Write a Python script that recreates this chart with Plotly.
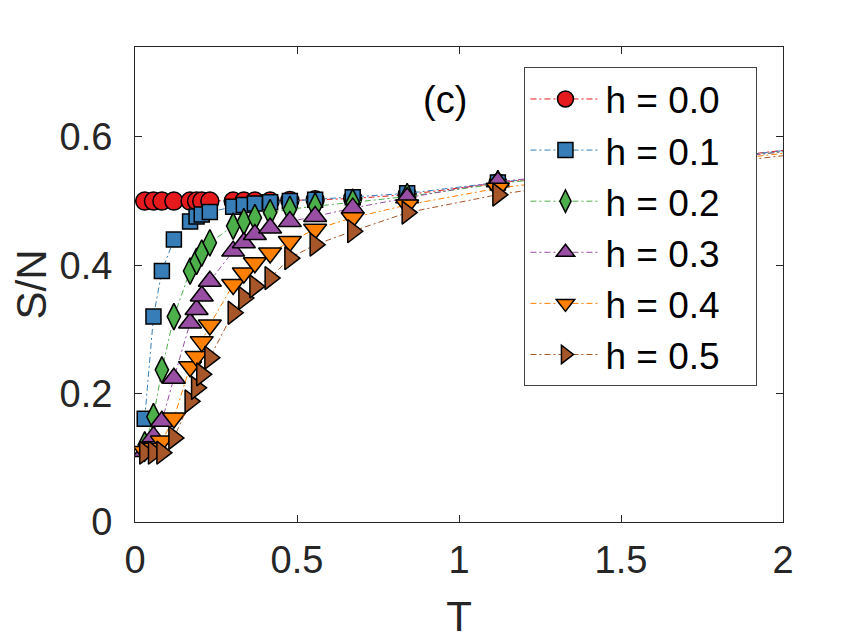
import plotly.graph_objects as go

# temperature grid (last two points sit behind the legend / beyond the axis)
T = [0.03, 0.057, 0.083, 0.12, 0.17, 0.19, 0.206, 0.231, 0.303, 0.336,
     0.37, 0.417, 0.478, 0.556, 0.672, 0.84, 1.12, 1.68, 3.36]

S_h00 = [0.5, 0.5, 0.5, 0.5, 0.5, 0.5, 0.5, 0.5, 0.5, 0.5,
         0.5, 0.5, 0.501, 0.502, 0.504, 0.51, 0.528, 0.561, 0.655]
S_h01 = [0.161, 0.320, 0.391, 0.440, 0.468, 0.476, 0.479, 0.483, 0.491, 0.494,
         0.496, 0.498, 0.500, 0.502, 0.506, 0.512, 0.529, 0.561, 0.655]
S_h02 = [0.12, 0.164, 0.237, 0.320, 0.391, 0.406, 0.419, 0.435, 0.461, 0.468,
         0.474, 0.482, 0.487, 0.492, 0.498, 0.507, 0.527, 0.560, 0.654]
S_h03 = [0.11, 0.133, 0.157, 0.224, 0.310, 0.331, 0.352, 0.375, 0.422, 0.435,
         0.448, 0.458, 0.468, 0.476, 0.489, 0.505, 0.530, 0.559, 0.653]
S_h04 = [0.11, 0.115, 0.126, 0.162, 0.242, 0.258, 0.281, 0.307, 0.370, 0.388,
         0.404, 0.419, 0.437, 0.456, 0.474, 0.494, 0.520, 0.556, 0.652]
S_h05 = [0.108, 0.108, 0.108, 0.131, 0.188, 0.209, 0.230, 0.256, 0.326, 0.349,
         0.367, 0.380, 0.411, 0.432, 0.453, 0.482, 0.510, 0.552, 0.650]

labels = ["h = 0.0", "h = 0.1", "h = 0.2", "h = 0.3", "h = 0.4", "h = 0.5"]
series = [S_h00, S_h01, S_h02, S_h03, S_h04, S_h05]

colors = ["#e41a1c", "#377eb8", "#4daf4a", "#984ea3", "#ff7f00", "#a65628"]
symbols = ["circle", "square", "diamond-tall", "triangle-up", "triangle-down", "triangle-right"]
sizes = [18, 15, 19, 20, 20, 20]

FONT = "Liberation Sans, Arial, sans-serif"
PAD = "\u00a0" * 3  # widens the legend box on the right

fig = go.Figure()
for i, (lab, s) in enumerate(zip(labels, series)):
    fig.add_trace(go.Scatter(
        x=T, y=s, name=lab + PAD, mode="lines+markers",
        legendgroup=lab,
        line=dict(color=colors[i], width=1, dash="6px,3px,2px,3px"),
        marker=dict(symbol=symbols[i], size=sizes[i], color=colors[i],
                    line=dict(color="black", width=1.5)),
    ))

fig.add_annotation(x=0.957, y=0.658, text="(c)", showarrow=False,
                   font=dict(size=38, color="black", family=FONT))

axis_common = dict(
    showline=True, linecolor="#262626", linewidth=1, mirror="ticks",
    ticks="inside", ticklen=7, tickcolor="#262626", tickwidth=1,
    showgrid=False, zeroline=False, automargin=False,
    tickfont=dict(size=38, color="#262626", family=FONT),
)

# the page body adds an 8px offset, so margins are trimmed on the left/top
fig.update_layout(
    width=865, height=640,
    margin=dict(l=127, r=90, t=39, b=126),
    paper_bgcolor="white", plot_bgcolor="white",
    xaxis=dict(range=[0, 2], tickvals=[0, 0.5, 1, 1.5, 2],
               ticktext=["0", "0.5", "1", "1.5", "2"],
               title=dict(text="T", font=dict(size=42, color="#262626", family=FONT), standoff=22),
               ticklabelstandoff=4, **axis_common),
    yaxis=dict(range=[0, 0.74], tickvals=[0, 0.2, 0.4, 0.6],
               ticktext=["0", "0.2", "0.4", "0.6"],
               title=dict(text="S/N", font=dict(size=42, color="#262626", family=FONT), standoff=12),
               ticklabelstandoff=14, **axis_common),
    legend=dict(x=0.601, y=0.957, xanchor="left", yanchor="top",
                bgcolor="white", bordercolor="#444444", borderwidth=1,
                font=dict(size=37, color="black", family=FONT),
                traceorder="grouped", tracegroupgap=0, itemwidth=70),
    showlegend=True,
)

fig.write_html("out.html")
